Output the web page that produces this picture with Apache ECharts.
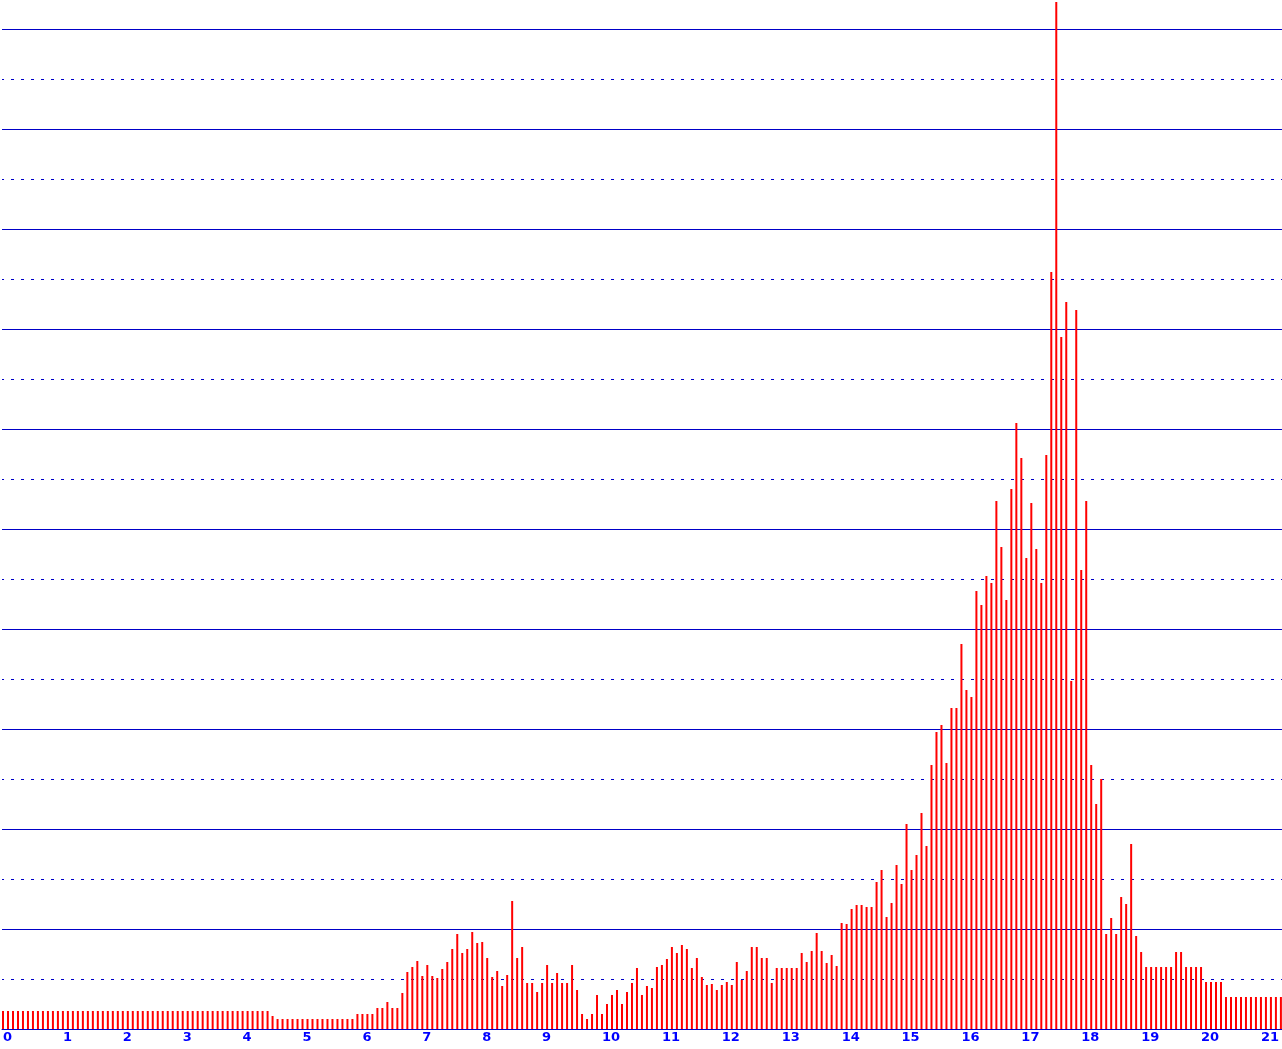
<!DOCTYPE html>
<html>
<head>
<meta charset="utf-8">
<script src="https://cdn.jsdelivr.net/npm/echarts@6/dist/echarts.min.js"></script>
<style>
html,body{margin:0;padding:0;background:#ffffff;}
#c{width:1282px;height:1049px;}
</style>
</head>
<body>
<div id="c"></div>
<script>
// Histogram: one bar per 5-minute bin, x axis in hours (labels), values in chart units
const binMinutes = 5;
const hourTicks = [0,1,2,3,4,5,6,7,8,9,10,11,12,13,14,15,16,17,18,19,20,21];
const counts = [
  18,18,18,18,18,18,18,18,18,18,18,18,
  18,18,18,18,18,18,18,18,18,18,18,18,
  18,18,18,18,18,18,18,18,18,18,18,18,
  18,18,18,18,18,18,18,18,18,18,18,18,
  18,18,18,18,18,18,13,10,10,10,10,10,
  10,10,10,10,10,10,10,10,10,10,10,15,
  15,15,15,21,21,27,21,21,36,57,62,68,
  53,64,53,51,60,67,80,95,76,80,97,86,
  87,71,52,58,43,54,128,71,82,46,46,37,
  46,64,46,56,46,46,64,39,15,10,15,34,
  15,25,34,39,25,37,46,61,34,43,41,62,
  64,70,82,76,84,80,61,71,52,44,45,39,
  44,47,44,67,49,58,82,82,71,71,46,61,
  61,61,61,61,76,67,78,96,78,66,74,63,
  106,105,120,124,124,122,122,147,159,112,126,164,
  145,205,159,174,216,183,264,297,304,266,321,321,
  385,339,332,438,424,453,446,528,482,429,540,606,
  571,471,526,480,446,574,757,1027,692,727,348,719,
  459,528,264,225,250,95,111,95,132,125,185,93,
  77,62,62,62,62,62,62,77,77,62,62,62,
  62,47,47,47,47,32,32,32,32,32,32,32,
  32,32,32,32,32
];

const gridColor = '#0000c8';
const chart = echarts.init(document.getElementById('c'), null, {renderer: 'canvas'});
const option = {
  animation: false,
  backgroundColor: '#ffffff',
  grid: {left: 0, right: 0, top: 29, bottom: 20, containLabel: false},
  xAxis: {
    type: 'value',
    min: -1,
    max: 1281,
    axisLine: {show: true, onZero: false, lineStyle: {color: gridColor, width: 1}},
    axisTick: {show: false},
    splitLine: {show: false},
    axisLabel: {
      customValues: hourTicks.map(h => h * 60),
      formatter: v => String(Math.round(v / 60)),
      align: 'left',
      color: '#0000ff',
      fontFamily: 'DejaVu Sans',
      fontWeight: 'bold',
      fontSize: 13,
      margin: 2
    }
  },
  yAxis: [
    {
      type: 'value', min: 0, max: 1000, interval: 100,
      axisLine: {show: false}, axisTick: {show: false}, axisLabel: {show: false},
      splitLine: {show: true, lineStyle: {color: gridColor, width: 1, type: 'solid'}}
    },
    {
      type: 'value', min: 0, max: 1000, interval: 50, position: 'right',
      axisLine: {show: false}, axisTick: {show: false}, axisLabel: {show: false},
      splitLine: {show: true, lineStyle: {color: gridColor, width: 1, type: [3, 7], dashOffset: 1}}
    }
  ],
  series: [{
    type: 'bar',
    yAxisIndex: 0,
    barWidth: 2,
    clip: false,
    itemStyle: {color: '#ff0000'},
    data: counts.map((c, i) => [i * binMinutes, c])
  }]
};
chart.setOption(option);
</script>
</body>
</html>
